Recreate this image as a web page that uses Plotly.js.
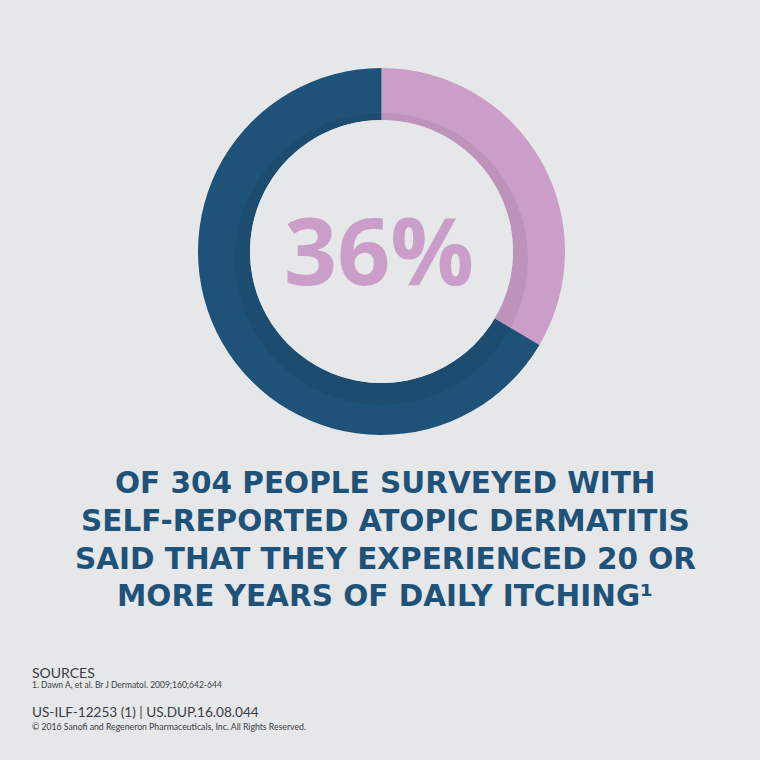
<!DOCTYPE html>
<html>
<head>
<meta charset="utf-8">
<script src="https://cdn.plot.ly/plotly-3.0.1.min.js"></script>
<style>
html,body{margin:0;padding:0;background:#e6e7e9;}
#chart{width:760px;height:760px;}
</style>
</head>
<body>
<div id="chart"></div>
<script>
// ---- data ----
const categories = ['20+ years of daily itching', 'Other respondents'];
const shares = [33.5, 66.5];           // drawn arc share
const headlineValue = '36%';
const bodyLines = [
  'OF 304 PEOPLE SURVEYED WITH',
  'SELF-REPORTED ATOPIC DERMATITIS',
  'SAID THAT THEY EXPERIENCED 20 OR',
  'MORE YEARS OF DAILY ITCHING\u00B9'
];
const sourceTitle = 'SOURCES';
const sourceLines = ['1. Dawn A, et al. Br J Dermatol. 2009;160;642-644'];
const codeLine = 'US-ILF-12253 (1) | US.DUP.16.08.044';
const copyrightLine = '\u00A9 2016 Sanofi and Regeneron Pharmaceuticals, Inc. All Rights Reserved.';

// ---- styling ----
const W = 760, H = 760;
const bg = '#e6e7e9';
const navy = '#1f5278';
const pink = '#cb9ec9';
const cx = 381.5, cy = 251.5, R = 183.5, Rin = 131.5;
const px = v => v / W;
const py = v => 1 - v / H;

const trace = {
  type: 'pie',
  labels: categories,
  values: shares,
  sort: false,
  direction: 'clockwise',
  rotation: 0,
  hole: Rin / R,
  textinfo: 'none',
  hoverinfo: 'label+percent',
  marker: {colors: [pink, navy], line: {width: 0}},
  domain: {x: [px(cx - R), px(cx + R)], y: [py(cy + R), py(cy - R)]}
};

const annotations = [];
annotations.push({
  xref: 'paper', yref: 'paper', x: px(378.5), y: py(249),
  xanchor: 'center', yanchor: 'middle', showarrow: false,
  text: '<b>' + headlineValue + '</b>',
  font: {family: 'Open Sans, sans-serif', size: 93, color: pink, weight: 800}
});
const lineY = [483, 521, 559, 596];
bodyLines.forEach((t, i) => annotations.push({
  xref: 'paper', yref: 'paper', x: px(385), y: py(lineY[i]),
  xanchor: 'center', yanchor: 'middle', showarrow: false,
  text: '<b>' + t + '</b>',
  font: {family: 'DejaVu Sans, sans-serif', size: 29.5, color: navy}
}));
const small = [
  {t: sourceTitle, y: 672, s: 14},
  {t: sourceLines[0], y: 685, s: 8.5},
  {t: codeLine, y: 712, s: 13.6},
  {t: copyrightLine, y: 726, s: 8.7}
];
small.forEach(o => annotations.push({
  xref: 'paper', yref: 'paper', x: px(30), y: py(o.y),
  xanchor: 'left', yanchor: 'middle', showarrow: false,
  text: o.t,
  font: {family: 'Lato, sans-serif', size: o.s, color: '#3a3d42'}
}));

const shapes = [
  // inner shadow band of the ring
  {type: 'circle', xref: 'paper', yref: 'paper', layer: 'above',
   x0: px(cx - 146.5), x1: px(cx + 146.5), y0: py(259 + 146), y1: py(259 - 146),
   fillcolor: 'rgba(0,0,0,0.065)', line: {width: 0}},
  {type: 'circle', xref: 'paper', yref: 'paper', layer: 'above',
   x0: px(cx - Rin), x1: px(cx + Rin), y0: py(cy + Rin), y1: py(cy - Rin),
   fillcolor: bg, line: {width: 0}}
];

const layout = {
  width: W, height: H,
  margin: {l: 0, r: 0, t: 0, b: 0},
  paper_bgcolor: bg, plot_bgcolor: bg,
  showlegend: false,
  annotations: annotations,
  shapes: shapes
};

Plotly.newPlot('chart', [trace], layout, {displayModeBar: false, staticPlot: true});
</script>
</body>
</html>
